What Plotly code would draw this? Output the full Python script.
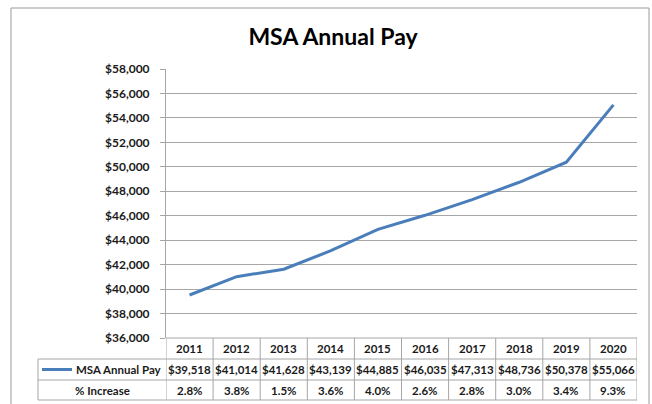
import plotly.graph_objects as go

years = ['2011', '2012', '2013', '2014', '2015', '2016', '2017', '2018', '2019', '2020']
pay = [39518, 41014, 41628, 43139, 44885, 46035, 47313, 48736, 50378, 55066]
pct_increase = ['2.8%', '3.8%', '1.5%', '3.6%', '4.0%', '2.6%', '2.8%', '3.0%', '3.4%', '9.3%']
series_name = 'MSA Annual Pay'
row2_label = '% Increase'
title_text = 'MSA Annual Pay'

W, H = 652, 404
L, R, T, B = 166, 637, 69, 338
LINE_COLOR = '#4A7EBB'
GRID = '#a6a6a6'
FONT = 'Lato'
TXT = '#1a1a1a'

def xp(px):
    return (px - L) / (R - L)

def yp(py):
    return (B - py) / (B - T)

fig = go.Figure()
fig.add_trace(go.Scatter(x=years, y=pay, mode='lines', name=series_name,
                         line=dict(color=LINE_COLOR, width=3), showlegend=False))

shapes = []
annotations = []

# chart border
shapes.append(dict(type='rect', xref='paper', yref='paper',
                   x0=xp(11), x1=xp(649), y0=yp(412), y1=yp(8),
                   line=dict(color='#9a9a9a', width=1), fillcolor='rgba(0,0,0,0)', layer='below'))

# table geometry (pixels)
row_top = [338, 359, 380]
row_bot = 400
label_left = 38
n = len(years)

shapes.append(dict(type='line', xref='x', yref='paper', x0=-0.5, x1=n - 0.5,
                   y0=yp(row_top[0]), y1=yp(row_top[0]), line=dict(color=GRID, width=1)))
for py in row_top[1:] + [row_bot]:
    shapes.append(dict(type='line', xref='paper', yref='paper', x0=xp(label_left), x1=1,
                       y0=yp(py), y1=yp(py), line=dict(color=GRID, width=1)))
for i in range(n + 1):
    shapes.append(dict(type='line', xref='x', yref='paper', x0=i - 0.5, x1=i - 0.5,
                       y0=yp(row_top[0]), y1=yp(row_bot), line=dict(color=GRID, width=1)))
shapes.append(dict(type='line', xref='paper', yref='paper', x0=xp(label_left), x1=xp(label_left),
                   y0=yp(row_top[1]), y1=yp(row_bot), line=dict(color=GRID, width=1)))
key_y = (row_top[1] + row_top[2]) / 2
shapes.append(dict(type='line', xref='paper', yref='paper', x0=xp(42), x1=xp(72),
                   y0=yp(key_y), y1=yp(key_y), line=dict(color=LINE_COLOR, width=3)))

centers = [(row_top[0] + row_top[1]) / 2, (row_top[1] + row_top[2]) / 2, (row_top[2] + row_bot) / 2]
cell_font = dict(family=FONT, size=11.5, color=TXT, weight='bold')
for i, yr in enumerate(years):
    annotations.append(dict(x=i, xref='x', y=yp(centers[0]), yref='paper', text=yr,
                            showarrow=False, font=cell_font, xanchor='center', yanchor='middle'))
    annotations.append(dict(x=i, xref='x', y=yp(centers[1]), yref='paper', text=f'${pay[i]:,}',
                            showarrow=False, font=cell_font, xanchor='center', yanchor='middle'))
    annotations.append(dict(x=i, xref='x', y=yp(centers[2]), yref='paper', text=pct_increase[i],
                            showarrow=False, font=cell_font, xanchor='center', yanchor='middle'))
annotations.append(dict(x=xp(164), xref='paper', y=yp(centers[1]), yref='paper', text=series_name,
                        showarrow=False, font=cell_font, xanchor='right', yanchor='middle'))
annotations.append(dict(x=xp((label_left + L) / 2), xref='paper', y=yp(centers[2]), yref='paper',
                        text=row2_label, showarrow=False, font=cell_font, xanchor='center', yanchor='middle'))

fig.update_layout(
    width=W, height=H,
    margin=dict(l=L, r=W - R, t=T, b=H - B, pad=0, autoexpand=False),
    paper_bgcolor='white', plot_bgcolor='white',
    title=dict(text=title_text, x=333 / W, xref='container', xanchor='center',
               y=1 - 37 / H, yref='container', yanchor='middle',
               font=dict(family=FONT, size=23, color='#000000', weight='bold')),
    xaxis=dict(type='category', range=[-0.5, n - 0.5], showticklabels=False, showgrid=False,
               zeroline=False, showline=False, ticks='', automargin=False),
    yaxis=dict(range=[36000, 58000], dtick=2000, tickformat='$,.0f', showgrid=True,
               gridcolor=GRID, gridwidth=1, zeroline=False, showline=True, linecolor=GRID,
               linewidth=1, ticks='outside', ticklen=5, tickcolor=GRID,
               ticklabelstandoff=8, automargin=False,
               tickfont=dict(family=FONT, size=12, color=TXT, weight='bold')),
    shapes=shapes, annotations=annotations,
)

fig.write_html('out.html', config={'displayModeBar': False},
               post_script="document.body.style.margin='0';document.body.style.overflow='hidden';")
